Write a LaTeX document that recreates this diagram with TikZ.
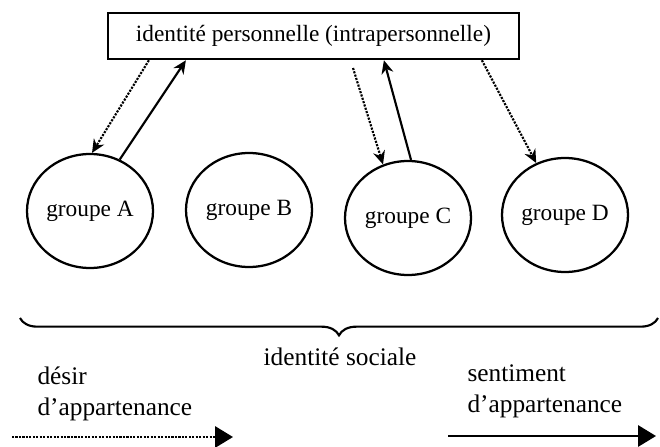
\documentclass[tikz,border=0pt]{standalone}
\usepackage{fontspec}
\setmainfont{Liberation Serif}
\usetikzlibrary{shapes.geometric,arrows.meta,decorations.pathreplacing}

\tikzset{every picture/.style={line width=0.75pt}}

\begin{document}
\begin{tikzpicture}[x=0.75pt,y=0.75pt,yscale=-1,xscale=1,
  idbox/.style={draw, line width=1.9pt, minimum width=308pt, minimum height=34.5pt, inner sep=0pt, font=\fontsize{17.5}{21}\selectfont},
  grp/.style={draw, ellipse, line width=1.7pt, minimum width=94.5pt, minimum height=85.5pt, inner sep=0pt, font=\fontsize{17.5}{21}\selectfont},
  lbl/.style={inner sep=0.75pt, font=\fontsize{19}{23}\selectfont},
  desire/.style={line width=1.6pt, densely dotted, -{Stealth[length=10pt,width=9pt]}},
  belong/.style={line width=1.6pt, -{Stealth[length=10pt,width=9pt]}}]
\useasboundingbox (0,0) rectangle (660,446);

% identite personnelle
\node[idbox] (perso) at (313.5,36) {identité personnelle (intrapersonnelle)};

% groupes
\node[grp] (grA) at (90,211) {groupe A};
\node[grp] (grB) at (249,210) {groupe B};
\node[grp] (grC) at (408,218) {groupe C};
\node[grp] (grD) at (565,215) {groupe D};

% fleches entre identite et groupes
\coordinate (dC) at (353,68);
\draw[desire] ([xshift=31.5pt]perso.south west) -- (grA.88);
\draw[belong] (grA.60) -- ([xshift=59.25pt]perso.south west);
\draw[desire] (dC) -- (grC.115);
\draw[belong] (grC.87) -- ([xshift=207.75pt]perso.south west);
\draw[desire] ([xshift=281.25pt]perso.south west) -- (grD.119);

% accolade
\draw[line width=1.6pt, decorate, decoration={brace, mirror, amplitude=13pt}] (20,318) -- (658,318);
\node[lbl] (soc) at (340,357) {identité sociale};

% legende
\node[lbl, anchor=west, align=left] (desir) at (36,394) {désir\\d’appartenance};
\node[lbl, anchor=west, align=left] (senti) at (466,391) {sentiment\\d’appartenance};
\coordinate (dL0) at (12,437);
\coordinate (dL1) at (233,437);
\coordinate (sR0) at (448,436);
\coordinate (sR1) at (656,436);
\draw[line width=1.6pt, densely dotted, -{Triangle[length=13.5pt,width=16pt]}] (dL0) -- (dL1);
\draw[line width=1.6pt, -{Triangle[length=13.5pt,width=16pt]}] (sR0) -- (sR1);
\end{tikzpicture}
\end{document}
